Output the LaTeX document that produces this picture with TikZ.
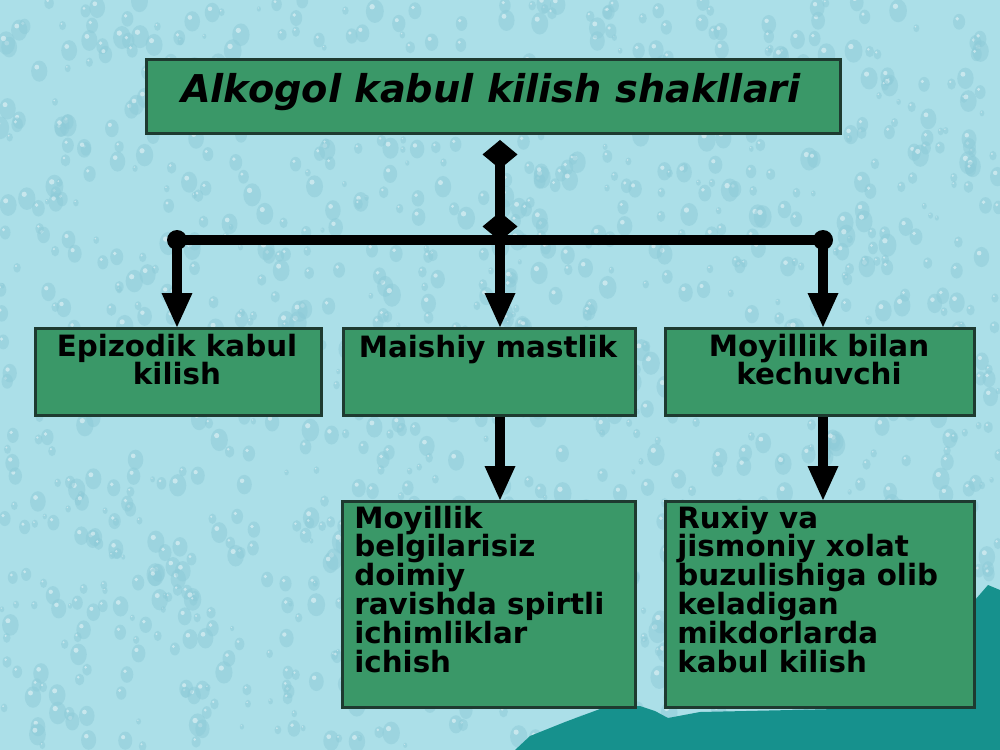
\documentclass[tikz,border=0pt]{standalone}
\usepackage{fontspec}
\setmainfont{DejaVu Sans}
\usetikzlibrary{arrows.meta,calc}
\definecolor{bgc}{HTML}{ABDFE8}
\definecolor{dropc}{HTML}{8ECBD8}
\definecolor{boxfill}{HTML}{3A9868}
\definecolor{boxline}{HTML}{1E3A30}
\definecolor{mtn}{HTML}{16918D}
\begin{document}
\begin{tikzpicture}[x=0.02cm,y=-0.02cm,
  box/.style={draw=boxline, line width=0.06cm, fill=boxfill, anchor=north west, inner sep=0pt},
  txt/.style={font=\fontsize{16.7pt}{16.4pt}\selectfont\bfseries, inner sep=0pt},
  conn/.style={line width=0.2cm, black},
  arr/.style={conn, -{Triangle[length=0.68cm,width=0.62cm,line width=0pt]}},
  dd/.style={conn, {Diamond[length=0.58cm,width=0.7cm,line width=0pt]}-{Diamond[length=0.58cm,width=0.7cm,line width=0pt]}},
  dot/.style={circle, fill=black, minimum size=0.4cm, inner sep=0pt}]
\useasboundingbox (0,0) rectangle (1000,750);
% background
\fill[bgc] (0,0) rectangle (1000,750);
\begin{scope}
\clip (0,0) rectangle (1000,750);
\pgfmathsetseed{42}
\foreach \i in {1,...,1300}{
  \pgfmathsetmacro\xx{rnd*1000}
  \pgfmathsetmacro\yy{rnd*750}
  \pgfmathsetmacro\rr{2+rnd*7}
  \fill[dropc, opacity=0.5] (\xx,\yy) ellipse ({\rr} and {1.3*\rr});
  \fill[white, opacity=0.45] ({\xx-0.3*\rr},{\yy-0.5*\rr}) circle ({0.3*\rr});
}
\end{scope}
% mountain
\fill[mtn] (515,750) -- (530,736) -- (565,722) -- (600,709) -- (640,706) -- (655,711) -- (668,718) -- (700,712) -- (975,706) -- (975,600) -- (988,585) -- (1000,590) -- (1000,750) -- cycle;
% boxes
\node[box, minimum width=13.88cm, minimum height=1.48cm] (T) at (145,58) {};
\node[font=\fontsize{21.8pt}{26pt}\selectfont\bfseries\itshape, anchor=base, inner sep=0pt] at (491,103) {Alkogol kabul kilish shakllari};
\node[box, minimum width=5.72cm, minimum height=1.74cm] (A) at (34,327) {};
\node[box, minimum width=5.84cm, minimum height=1.74cm] (B) at (342,327) {};
\node[box, minimum width=6.18cm, minimum height=1.74cm] (C) at (664,327) {};
\node[box, minimum width=5.86cm, minimum height=4.12cm] (D) at (341,500) {};
\node[box, minimum width=6.18cm, minimum height=4.12cm] (E) at (664,500) {};
\node[txt, anchor=base] at (177,356) {\parbox[t]{5.5cm}{\centering Epizodik kabul\\kilish}};
\node[txt, anchor=base] at (488,357) {\parbox[t]{5.6cm}{\centering Maishiy mastlik}};
\node[txt, anchor=base] at (819,356) {\parbox[t]{6cm}{\centering Moyillik bilan\\kechuvchi}};
\node[txt, anchor=base west] at (354,528) {\parbox[t]{5.6cm}{\raggedright Moyillik\\belgilarisiz\\doimiy\\ravishda spirtli\\ichimliklar\\ichish}};
\node[txt, anchor=base west] at (677,528) {\parbox[t]{6cm}{\raggedright Ruxiy va\\jismoniy xolat\\buzulishiga olib\\keladigan\\mikdorlarda\\kabul kilish}};
% connectors
\coordinate (jM) at (500,240);
\node[dot] (dL) at (177,240) {};
\node[dot] (dR) at (823,240) {};
\draw[conn] (dL.center) -- (dR.center);
\draw[dd] ($(T.south -| jM)+(0,5)$) -- ($(jM)+(0,1)$);
\draw[arr] (dL.center) -- (dL.center |- A.north);
\draw[arr] (jM) -- (jM |- B.north);
\draw[arr] (dR.center) -- (dR.center |- C.north);
\draw[arr] (B.south -| jM) -- (D.north -| jM);
\draw[arr] (C.south -| dR.center) -- (E.north -| dR.center);
\end{tikzpicture}
\end{document}
